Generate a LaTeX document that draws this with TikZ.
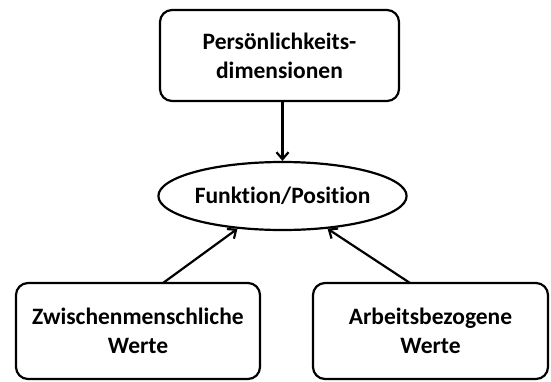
\documentclass[tikz,border=0pt]{standalone}
\usepackage{fontspec}
\setmainfont{Carlito}[Ligatures=CommonOff]
\usetikzlibrary{shapes.geometric,arrows.meta}
\begin{document}
\begin{tikzpicture}[x=1pt,y=-1pt,
  txt/.style={font=\bfseries\fontsize{23.5}{29}\selectfont},
  box/.style={draw,txt,line width=2.2pt,rounded corners=12pt,align=center,inner sep=0pt},
  oval/.style={draw,txt,ellipse,line width=2.2pt,inner sep=0pt},
  conn/.style={line width=2.2pt,-{Straight Barb[length=7pt,width=12pt,line width=2.2pt]}}]
\useasboundingbox (0,0) rectangle (551,381);
\node[box,minimum width=239pt,minimum height=91pt] (top) at (279.5,55.5) {Persönlichkeits-\\dimensionen};
\node[oval,minimum width=245pt,minimum height=68pt] (mid) at (282.5,196) {Funktion/Position};
\node[box,minimum width=244pt,minimum height=96pt] (left) at (138,331) {Zwischenmenschliche\\Werte};
\node[box,minimum width=235pt,minimum height=96pt] (right) at (430.5,331) {Arbeitsbezogene\\Werte};
\coordinate (lt) at (163,283);
\coordinate (rt) at (410,283);
\draw[conn] (top.south -| mid.north) -- (mid.north);
\draw[conn] (lt) -- (mid.216);
\draw[conn] (rt) -- (mid.-36);
\end{tikzpicture}
\end{document}
